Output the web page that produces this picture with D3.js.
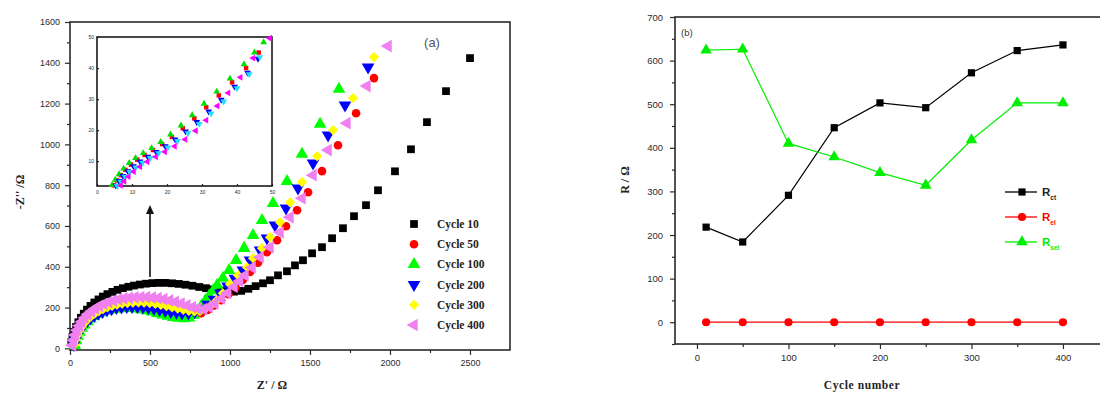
<!DOCTYPE html>
<html>
<head>
<meta charset="utf-8">
<script src="https://cdn.jsdelivr.net/npm/d3@7"></script>
<style>
  html, body { margin: 0; padding: 0; background: #fff; }
  svg { display: block; }
  .tick text { font-family: Arial, "Liberation Sans", sans-serif; }
</style>
</head>
<body>
<svg id="chart" width="1100" height="394"></svg>
<script>
// ---------- (a) Nyquist plots: [Z' (Ω), -Z'' (Ω)] ----------
const cycle10 = [[8,30],[15,55],[25,80],[38,105],[52,128],[68,150],[86,170],[106,190],[128,208],[152,225],[178,240],[205,254],[234,266],[265,277],[297,287],[330,295],[365,302],[400,308],[437,313],[475,317],[515,320],[555,321],[596,321],[638,319],[680,316],[722,312],[765,307],[808,301],[850,295],[893,289],[936,284],[980,280],[1025,278],[1070,282],[1115,292],[1160,305],[1206,319],[1250,334],[1300,358],[1356,378],[1406,407],[1456,432],[1513,466],[1575,496],[1638,540],[1706,589],[1775,648],[1850,702],[1925,775],[2031,868],[2131,976],[2231,1109],[2350,1261],[2500,1423]];
const cycle50 = [[25,20],[35,45],[48,70],[62,92],[78,112],[96,130],[116,147],[138,162],[162,175],[188,186],[215,196],[244,204],[274,210],[305,214],[337,217],[370,218],[403,218],[437,216],[471,212],[505,207],[540,201],[575,195],[610,189],[645,183],[680,177],[715,172],[750,168],[785,167],[820,172],[860,188],[900,210],[945,236],[990,265],[1035,298],[1080,335],[1125,375],[1175,420],[1231,471],[1294,530],[1350,599],[1419,677],[1488,765],[1575,869],[1675,996],[1788,1153],[1900,1325]];
const cycle100 = [[30,15],[38,38],[48,60],[60,80],[74,99],[90,116],[108,131],[128,145],[150,157],[174,167],[200,176],[227,183],[256,189],[286,193],[317,195],[349,196],[381,196],[414,194],[447,190],[480,185],[513,179],[546,172],[579,165],[612,158],[645,152],[678,148],[711,146],[744,150],[772,163],[798,185],[822,210],[846,234],[870,258],[895,283],[920,310],[956,345],[994,383],[1038,432],[1088,491],[1144,554],[1200,628],[1269,711],[1356,819],[1450,952],[1563,1099],[1681,1271]];
const cycle200 = [[25,18],[33,40],[44,62],[57,83],[72,102],[89,119],[108,135],[129,149],[152,161],[177,171],[203,180],[231,188],[260,194],[290,199],[322,202],[355,204],[388,205],[422,204],[456,202],[490,199],[525,195],[560,190],[595,185],[630,180],[665,176],[700,173],[740,173],[780,180],[820,195],[860,215],[900,240],[940,270],[985,305],[1031,343],[1081,383],[1125,432],[1188,481],[1231,540],[1281,604],[1350,687],[1425,785],[1519,908],[1613,1045],[1719,1192],[1863,1379]];
const cycle300 = [[28,18],[36,42],[47,65],[60,87],[75,107],[92,125],[111,142],[132,157],[155,170],[180,182],[206,192],[234,201],[263,208],[294,214],[326,219],[359,222],[393,224],[428,225],[463,224],[498,222],[533,218],[568,213],[603,207],[638,201],[673,195],[708,189],[743,184],[778,181],[812,183],[845,193],[880,210],[915,234],[955,270],[1000,315],[1050,358],[1106,398],[1144,442],[1200,491],[1250,545],[1313,618],[1375,716],[1450,815],[1544,942],[1644,1070],[1769,1227],[1900,1428]];
const cycle400 = [[15,15],[22,40],[32,65],[44,89],[58,111],[74,131],[92,150],[112,167],[134,182],[158,196],[184,208],[212,218],[241,227],[272,234],[304,240],[337,245],[371,248],[406,250],[442,251],[478,251],[514,249],[550,246],[586,241],[622,235],[658,228],[694,220],[730,211],[765,202],[800,195],[835,193],[870,202],[905,220],[945,245],[985,272],[1025,302],[1060,330],[1094,358],[1138,397],[1188,447],[1250,496],[1313,569],[1375,643],[1450,736],[1519,849],[1613,972],[1731,1104],[1856,1286],[1988,1482]];

const cycleNames = ["Cycle 10", "Cycle 50", "Cycle 100", "Cycle 200", "Cycle 300", "Cycle 400"];
const cycleColors = ["#000000", "#ff0000", "#00ff00", "#0000ff", "#ffff00", "#f07ff0"];
const cycleShapes = ["square", "circle", "up", "down", "diamond", "left"];

// inset: high-frequency region (Ω)
const insetRed = [[4.8,2.2],[5.7,3.8],[6.8,5.5],[8.1,7.2],[9.7,8.9],[11.5,10.5],[13.6,12.0],[16.0,13.6],[18.6,15.5],[21.4,17.8],[24.5,20.6],[27.8,23.8],[31.2,27.4],[34.8,31.2],[38.6,35.4],[42.6,40.0],[46.2,45.0]];
const insetGreen = [[4.3,2.3],[5.2,4.0],[6.3,5.8],[7.6,7.6],[9.2,9.4],[11.0,11.0],[13.2,12.6],[15.6,14.2],[18.2,16.2],[21.0,18.6],[24.0,21.5],[27.2,24.8],[30.6,28.5],[34.2,32.4],[38.0,36.6],[42.0,41.2],[45.0,45.0],[47.6,48.3]];
const insetBlue = [[5.4,2.1],[6.3,3.6],[7.4,5.2],[8.8,6.8],[10.4,8.4],[12.3,9.9],[14.5,11.4],[16.9,13.0],[19.5,14.8],[22.3,17.0],[25.3,19.6],[28.5,22.6],[31.9,26.0],[35.5,29.8],[39.3,34.0],[43.0,38.5],[46.0,43.0]];
const insetCyan = [[5.8,2.0],[6.8,3.4],[8.0,5.0],[9.4,6.5],[11.1,8.0],[13.0,9.5],[15.2,11.0],[17.6,12.6],[20.2,14.4],[23.0,16.5],[26.0,19.0],[29.2,22.0],[32.6,25.4],[36.2,29.2],[40.0,33.5],[43.5,38.0],[46.5,43.5]];
const insetMagenta = [[6.8,2.2],[7.8,3.5],[9.0,5.0],[10.5,6.6],[12.3,8.2],[14.4,9.8],[16.8,11.4],[19.4,13.0],[22.2,14.8],[25.2,17.0],[28.2,19.8],[31.2,23.2],[34.4,27.8],[37.5,32.0],[41.0,37.0],[44.6,43.2],[49.4,49.6]];
const insetColors = ["#ff0000", "#00dd00", "#0000ff", "#22ddff", "#ff00ff"];
const insetShapes = ["square", "up", "down", "down", "left"];

const aXTicks = [0, 500, 1000, 1500, 2000, 2500];
const aYTicks = [0, 200, 400, 600, 800, 1000, 1200, 1400, 1600];
const insetXTicks = [0, 10, 20, 30, 40, 50];
const insetYTicks = [10, 20, 30, 40, 50];

// ---------- (b) fitted resistances vs cycle number ----------
const cycles = [10, 50, 100, 150, 200, 250, 300, 350, 400];
const rCt = [218, 184, 291, 446, 503, 492, 572, 623, 636];
const rEl = [0, 0, 0, 0, 0, 0, 0, 0, 0];
const rSei = [624, 626, 410, 379, 343, 314, 418, 503, 503];
const bXTicks = [0, 100, 200, 300, 400];
const bYTicks = [0, 100, 200, 300, 400, 500, 600, 700];

const svg = d3.select("#chart");
const frameColor = "#2a2a2a";
const labelColor = "#2b2b2b";

function symbolPath(shape, size) {
  const map = {
    square: [d3.symbolSquare, 0],
    circle: [d3.symbolCircle, 0],
    up: [d3.symbolTriangle, 0],
    down: [d3.symbolTriangle, 180],
    left: [d3.symbolTriangle, -90],
    diamond: [d3.symbolSquare, 45]
  };
  const [type, rot] = map[shape];
  return { d: d3.symbol().type(type).size(size)(), rot };
}

function drawMarkers(g, data, xs, ys, shape, color, size) {
  const s = symbolPath(shape, size);
  g.append("g").selectAll("path").data(data).join("path")
    .attr("d", s.d)
    .attr("transform", d => `translate(${xs(d[0])},${ys(d[1])}) rotate(${s.rot})`)
    .attr("fill", color);
}

function styleAxis(g, fontSize) {
  g.select(".domain").remove();
  g.selectAll(".tick line").attr("stroke", frameColor).attr("stroke-width", 1.2);
  g.selectAll(".tick text").attr("fill", labelColor).attr("font-size", fontSize);
}

// ================= Panel (a) =================
const ax = d3.scaleLinear().domain([0, 2750]).range([70, 510]);
const ay = d3.scaleLinear().domain([-8, 1600]).range([350, 22]);
const pa = svg.append("g");

// minor ticks
const aXMinor = d3.range(250, 2750, 500);
const aYMinor = d3.range(100, 1600, 200);
pa.append("g").attr("transform", `translate(0,${ay.range()[0]})`)
  .call(d3.axisBottom(ax).tickValues(aXMinor).tickSize(3).tickFormat(""))
  .call(g => styleAxis(g, 9));
pa.append("g").attr("transform", `translate(${ax.range()[0]},0)`)
  .call(d3.axisLeft(ay).tickValues(aYMinor).tickSize(3).tickFormat(""))
  .call(g => styleAxis(g, 9));
// major ticks with labels
pa.append("g").attr("transform", `translate(0,${ay.range()[0]})`)
  .call(d3.axisBottom(ax).tickValues(aXTicks).tickSize(5).tickPadding(5).tickFormat(d3.format("d")))
  .call(g => styleAxis(g, 9));
pa.append("g").attr("transform", `translate(${ax.range()[0]},0)`)
  .call(d3.axisLeft(ay).tickValues(aYTicks).tickSize(5).tickPadding(5).tickFormat(d3.format("d")))
  .call(g => styleAxis(g, 9));

// frame
pa.append("rect")
  .attr("x", ax.range()[0]).attr("y", ay.range()[1])
  .attr("width", ax.range()[1] - ax.range()[0]).attr("height", ay.range()[0] - ay.range()[1])
  .attr("fill", "none").attr("stroke", frameColor).attr("stroke-width", 1.6);

// series
const cycleData = [cycle10, cycle50, cycle100, cycle200, cycle300, cycle400];
const markerSizes = { square: 60, circle: 58, up: 70, down: 70, diamond: 52, left: 70 };
cycleData.forEach((data, i) => {
  drawMarkers(pa, data, ax, ay, cycleShapes[i], cycleColors[i], markerSizes[cycleShapes[i]]);
});

// arrow pointing to the inset
pa.append("line").attr("x1", 150).attr("x2", 150).attr("y1", 277).attr("y2", 212)
  .attr("stroke", "#111").attr("stroke-width", 1.6);
pa.append("path").attr("d", "M150,205 L146,214 L154,214 Z").attr("fill", "#111");

// panel tag
pa.append("text").attr("x", 432).attr("y", 47).attr("text-anchor", "middle")
  .attr("font-family", "Arial, 'Liberation Sans', sans-serif").attr("font-size", 13)
  .attr("fill", "#555").text("(a)");

// axis titles
pa.append("text").attr("x", 272).attr("y", 389).attr("text-anchor", "middle")
  .attr("font-family", "'Liberation Serif', 'Times New Roman', serif").attr("font-weight", "bold")
  .attr("font-size", 12).attr("fill", "#222").text("Z' / Ω");
pa.append("text").attr("transform", "translate(24,192) rotate(-90)").attr("text-anchor", "middle")
  .attr("font-family", "'Liberation Serif', 'Times New Roman', serif").attr("font-weight", "bold")
  .attr("font-size", 12).attr("fill", "#222").text("-Z'' /Ω");

// legend
const legA = pa.append("g");
cycleNames.forEach((name, i) => {
  const yy = 224 + i * 20.2;
  const s = symbolPath(cycleShapes[i], markerSizes[cycleShapes[i]]);
  legA.append("path").attr("d", s.d)
    .attr("transform", `translate(414,${yy}) rotate(${s.rot})`)
    .attr("fill", cycleColors[i]);
  legA.append("text").attr("x", 437).attr("y", yy + 4)
    .attr("font-family", "'Liberation Serif', 'Times New Roman', serif").attr("font-weight", "bold")
    .attr("font-size", 11.5).attr("fill", "#222").text(name);
});

// ---- inset ----
const ix = d3.scaleLinear().domain([0, 50]).range([97, 272]);
const iy = d3.scaleLinear().domain([2, 50]).range([186, 37]);
const ins = svg.append("g");
ins.append("rect").attr("x", 97).attr("y", 37).attr("width", 175).attr("height", 149)
  .attr("fill", "#fff");
ins.append("g").attr("transform", `translate(0,${iy.range()[0]})`)
  .call(d3.axisTop(ix).tickValues(insetXTicks).tickSize(2).tickFormat(""))
  .call(g => styleAxis(g, 5));
ins.append("g").attr("transform", `translate(0,${iy.range()[0]})`)
  .call(d3.axisBottom(ix).tickValues(insetXTicks).tickSize(0).tickPadding(4))
  .call(g => styleAxis(g, 5));
ins.append("g").attr("transform", `translate(${ix.range()[0]},0)`)
  .call(d3.axisRight(iy).tickValues(insetYTicks).tickSize(2).tickFormat(""))
  .call(g => styleAxis(g, 5));
ins.append("g").attr("transform", `translate(${ix.range()[0]},0)`)
  .call(d3.axisLeft(iy).tickValues(insetYTicks).tickSize(0).tickPadding(3))
  .call(g => styleAxis(g, 5));
ins.append("rect").attr("x", 97).attr("y", 37).attr("width", 175).attr("height", 149)
  .attr("fill", "none").attr("stroke", "#1a1a1a").attr("stroke-width", 1.6);
[insetRed, insetGreen, insetBlue, insetCyan, insetMagenta].forEach((data, i) => {
  drawMarkers(ins, data, ix, iy, insetShapes[i], insetColors[i], 20);
});

// ================= Panel (b) =================
const bx = d3.scaleLinear().domain([-24, 450]).range([675, 675 + 474 * 0.915]);
const by = d3.scaleLinear().domain([-50, 700]).range([344, 17]);
const pb = svg.append("g");

pb.append("g").attr("transform", `translate(0,${by.range()[0]})`)
  .call(d3.axisBottom(bx).tickValues(d3.range(50, 450, 100)).tickSize(3).tickFormat(""))
  .call(g => styleAxis(g, 9));
pb.append("g").attr("transform", `translate(${bx.range()[0]},0)`)
  .call(d3.axisLeft(by).tickValues(d3.range(-50, 700, 100)).tickSize(3).tickFormat(""))
  .call(g => styleAxis(g, 9));
pb.append("g").attr("transform", `translate(0,${by.range()[0]})`)
  .call(d3.axisBottom(bx).tickValues(bXTicks).tickSize(5).tickPadding(5).tickFormat(d3.format("d")))
  .call(g => styleAxis(g, 9.5));
pb.append("g").attr("transform", `translate(${bx.range()[0]},0)`)
  .call(d3.axisLeft(by).tickValues(bYTicks).tickSize(5).tickPadding(7).tickFormat(d3.format("d")))
  .call(g => styleAxis(g, 9.5));

pb.append("rect")
  .attr("x", bx.range()[0]).attr("y", by.range()[1])
  .attr("width", bx.range()[1] - bx.range()[0]).attr("height", by.range()[0] - by.range()[1])
  .attr("fill", "none").attr("stroke", frameColor).attr("stroke-width", 1.6);

const rSeries = [
  { values: rCt, color: "#000000", shape: "square", size: 52, sub: "ct" },
  { values: rEl, color: "#ff0000", shape: "circle", size: 52, sub: "el" },
  { values: rSei, color: "#00ee00", shape: "up", size: 58, sub: "sei" }
];
const line = d3.line().x(d => bx(d[0])).y(d => by(d[1]));
rSeries.forEach(s => {
  const pts = cycles.map((c, i) => [c, s.values[i]]);
  pb.append("path").datum(pts).attr("d", line)
    .attr("fill", "none").attr("stroke", s.color).attr("stroke-width", 1.2);
  drawMarkers(pb, pts, bx, by, s.shape, s.color, s.size);
});

pb.append("text").attr("x", 681).attr("y", 36)
  .attr("font-family", "Arial, 'Liberation Sans', sans-serif").attr("font-size", 9.5)
  .attr("fill", "#333").text("(b)");

pb.append("text").attr("x", 862).attr("y", 389).attr("text-anchor", "middle")
  .attr("font-family", "'Liberation Serif', 'Times New Roman', serif").attr("font-weight", "bold")
  .attr("font-size", 11.5).attr("letter-spacing", 0.6).attr("fill", "#222").text("Cycle number");
pb.append("text").attr("transform", "translate(629,180) rotate(-90)").attr("text-anchor", "middle")
  .attr("font-family", "'Liberation Serif', 'Times New Roman', serif").attr("font-weight", "bold")
  .attr("font-size", 12).attr("fill", "#222").text("R / Ω");

const legB = pb.append("g");
rSeries.forEach((s, i) => {
  const yy = 192 + i * 25;
  legB.append("line").attr("x1", 1005).attr("x2", 1037).attr("y1", yy).attr("y2", yy)
    .attr("stroke", s.color).attr("stroke-width", 1.3);
  const sym = symbolPath(s.shape, s.size);
  legB.append("path").attr("d", sym.d)
    .attr("transform", `translate(1022,${yy}) rotate(${sym.rot})`).attr("fill", s.color);
  const t = legB.append("text").attr("x", 1042).attr("y", yy + 4)
    .attr("font-family", "Arial, 'Liberation Sans', sans-serif").attr("font-weight", "bold")
    .attr("font-size", 11.5).attr("fill", s.color === "#000000" ? "#222" : s.color);
  t.append("tspan").text("R");
  t.append("tspan").attr("font-size", 6.5).attr("dy", 4).text(s.sub);
});
</script>
</body>
</html>
